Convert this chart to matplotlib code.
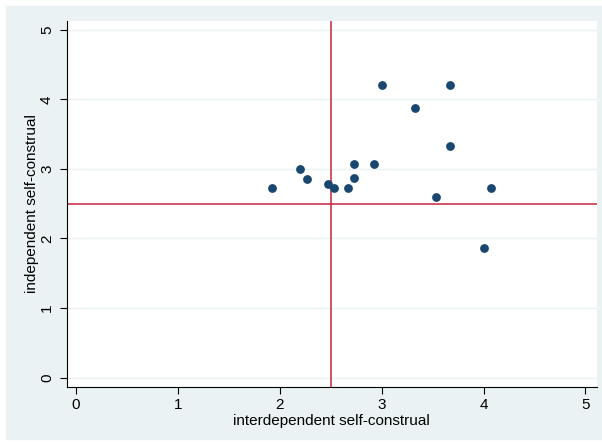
import matplotlib.pyplot as plt
from matplotlib.patches import Rectangle

# scatter values
interdependent = [1.93, 2.20, 2.27, 2.47, 2.53, 2.67, 2.73, 2.73, 2.93,
                  3.00, 3.33, 3.67, 3.67, 3.53, 4.07, 4.00]
independent = [2.73, 3.00, 2.85, 2.79, 2.73, 2.73, 2.87, 3.07, 3.07,
               4.20, 3.87, 4.20, 3.33, 2.60, 2.73, 1.87]
ref_x = 2.5
ref_y = 2.5
ticks = [0, 1, 2, 3, 4, 5]

plt.rcParams['font.family'] = ['Liberation Sans', 'DejaVu Sans']

bg = '#EAF2F3'
fig = plt.figure(figsize=(6.02, 4.44), dpi=100)
fig.add_artist(Rectangle((6 / 602, 5 / 444), 1, 1 - 11 / 444,
                         transform=fig.transFigure, color=bg, zorder=-10))

ax = fig.add_axes([0.1105, 0.1291, 0.8807, 0.8243])
ax.set_facecolor('white')
ax.set_xlim(-0.09, 5.11)
ax.set_ylim(-0.13, 5.13)

for t in ticks:
    ax.axhline(t, color=bg, lw=1.0, zorder=1)

ax.axvline(ref_x, color='#C8243F', lw=1.1, zorder=2)
ax.axhline(ref_y, color='#C8243F', lw=1.1, zorder=2)
ax.scatter(interdependent, independent, s=40, color='#1A476F', zorder=3,
           linewidths=0)

ax.set_xticks(ticks)
ax.set_yticks(ticks)
ax.tick_params(direction='out', length=5, width=0.8, labelsize=11, colors='black')
ax.tick_params(axis='y', pad=4)
for lab in ax.get_yticklabels():
    lab.set_rotation(90)
    lab.set_va('center')
for s in ['top', 'right']:
    ax.spines[s].set_visible(False)
for s in ['left', 'bottom']:
    ax.spines[s].set_linewidth(0.8)

ax.set_xlabel('interdependent self-construal', fontsize=11, labelpad=1)
ax.set_ylabel('independent self-construal', fontsize=11, labelpad=1)

fig.savefig('out.png', dpi=100)
